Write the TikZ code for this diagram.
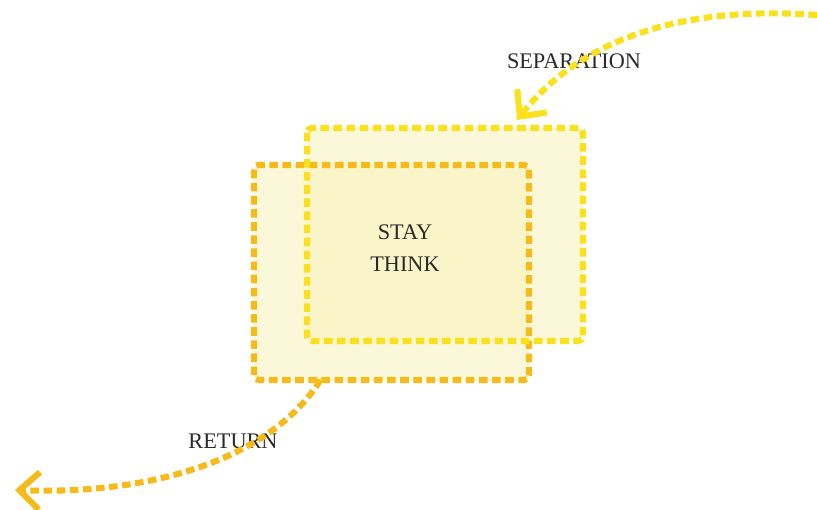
\documentclass[tikz,border=0pt]{standalone}
\usepackage{fontspec}
\setmainfont{Liberation Serif}
\usetikzlibrary{arrows.meta}
\definecolor{sepline}{HTML}{FAE11C}
\definecolor{retline}{HTML}{F5BB1B}
\definecolor{boxfill}{HTML}{F8F2BA}
\definecolor{labeltext}{HTML}{2A2A2A}
\begin{document}
\begin{tikzpicture}[x=0.03cm,y=-0.03cm,
  dashline/.style={line width=5.2pt,dash pattern=on 7.4pt off 3.8pt},
  stagebox/.style={rounded corners=4pt,fill=boxfill,fill opacity=.55,inner sep=0pt,outer sep=0pt},
  stageedge/.style={dashline,rounded corners=4pt},
  stagelabel/.style={text=labeltext,font=\fontsize{19}{27}\selectfont,align=center,inner sep=0pt},
  barb/.style={-{Straight Barb[length=17pt,width=32pt,line width=5.2pt]}}]
\useasboundingbox (0,0) rectangle (817,510);
\node[stagebox,minimum width=8.25cm,minimum height=6.45cm] (return box) at (391.5,272.5) {};
\node[stagebox,minimum width=8.28cm,minimum height=6.39cm] (separation box) at (445,234.5) {};
\draw[stageedge,retline] (return box.north west) rectangle (return box.south east);
\draw[stageedge,sepline] (separation box.north west) rectangle (separation box.south east);
\node[stagelabel] (stay) at (405,248) {STAY\\THINK};
\node[stagelabel] (separation) at (574,61) {SEPARATION};
\node[stagelabel] (return) at (233,441) {RETURN};
\coordinate (sepstart) at (817,15);
\coordinate (septip) at ([shift={(72,-8)}]separation box.north);
\coordinate (retstart) at ([shift={(-71,0)}]return box.south);
\coordinate (rettip) at (15,490);
\draw[dashline,barb,sepline] (sepstart) .. controls (680,5) and (580,40) .. (septip);
\draw[dashline,barb,retline] (retstart) .. controls (270,460) and (150,495) .. (rettip);
\end{tikzpicture}
\end{document}
